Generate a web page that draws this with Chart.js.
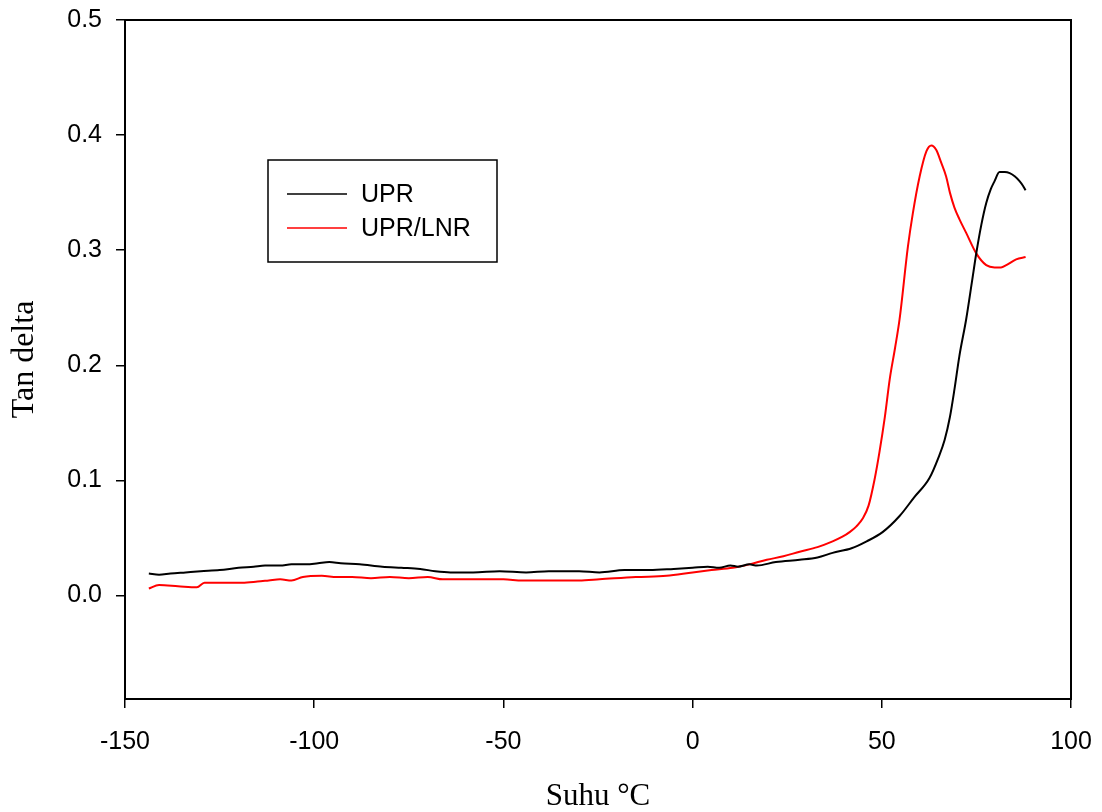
<!DOCTYPE html>
<html>
<head>
<meta charset="utf-8">
<script src="https://cdn.jsdelivr.net/npm/chart.js@4/dist/chart.umd.min.js"></script>
<style>
  body { margin: 0; background: #fff; }
  #wrap { width: 1102px; height: 812px; }
</style>
</head>
<body>
<div id="wrap"><canvas id="tanChart" width="1102" height="812"></canvas></div>
<script>
// temperature (°C) and tan delta
const uprTemp = [-143.7, -141, -138, -134, -130, -125, -120, -116, -113, -109, -106, -102, -99, -96, -93, -88, -82, -77, -72, -68, -64, -58, -51, -44, -38, -30, -24.6, -18, -11.4, -5, 0, 4, 7, 10, 12, 15, 17, 22, 28.3, 33, 37, 42, 46, 50.2, 54.7, 58.5, 62.6, 65, 66.6, 68, 69.2, 70.5, 72.3, 73.8, 75, 76.3, 77.6, 78.8, 79.8, 81.1, 82.5, 83.8, 85.2, 86.4, 87.3, 88];
const uprTan = [0.019, 0.018, 0.019, 0.020, 0.021, 0.022, 0.024, 0.025, 0.026, 0.026, 0.027, 0.027, 0.028, 0.029, 0.028, 0.027, 0.025, 0.024, 0.023, 0.021, 0.020, 0.020, 0.021, 0.020, 0.021, 0.021, 0.020, 0.022, 0.022, 0.023, 0.024, 0.025, 0.024, 0.026, 0.025, 0.027, 0.026, 0.029, 0.031, 0.033, 0.037, 0.041, 0.047, 0.055, 0.069, 0.085, 0.102, 0.120, 0.135, 0.155, 0.179, 0.208, 0.240, 0.272, 0.298, 0.322, 0.341, 0.353, 0.360, 0.368, 0.368, 0.367, 0.364, 0.360, 0.356, 0.352];

const lnrTemp = [-143.7, -141, -136, -131, -129, -125, -119, -115, -112, -109, -106, -103, -98, -94, -90, -85, -80, -75, -70, -66, -63, -57, -50, -45, -37.8, -30, -24.6, -15, -6.9, 0, 5, 10.6, 15, 19.6, 24, 28.3, 33, 37, 39.6, 41.5, 43.3, 45, 46.5, 48.1, 49.4, 50.8, 52.1, 53.5, 54.7, 56.9, 58.2, 60, 61.8, 63.1, 64.4, 65.7, 67, 68, 69.2, 70.5, 72.3, 75, 77.6, 79.8, 81.5, 82.9, 85.5, 88];
const lnrTan = [0.006, 0.009, 0.008, 0.007, 0.011, 0.011, 0.011, 0.012, 0.013, 0.014, 0.013, 0.016, 0.017, 0.016, 0.016, 0.015, 0.016, 0.015, 0.016, 0.014, 0.014, 0.014, 0.014, 0.013, 0.013, 0.013, 0.014, 0.016, 0.017, 0.020, 0.022, 0.024, 0.027, 0.031, 0.034, 0.038, 0.042, 0.047, 0.051, 0.055, 0.060, 0.067, 0.078, 0.101, 0.125, 0.155, 0.188, 0.215, 0.240, 0.303, 0.332, 0.364, 0.386, 0.391, 0.387, 0.376, 0.364, 0.350, 0.337, 0.327, 0.315, 0.297, 0.287, 0.285, 0.285, 0.287, 0.292, 0.294];

const seriesNames = ['UPR', 'UPR/LNR'];
const seriesColors = ['#000000', '#ff0000'];

const xTitle = 'Suhu °C';
const yTitle = 'Tan delta';

const toPoints = (xs, ys) => xs.map((x, i) => ({ x: x, y: ys[i] }));

// box around the plot plus the legend inside it
const framePlugin = {
  id: 'frame',
  afterDraw(chart) {
    const ctx = chart.ctx;
    const a = chart.chartArea;
    ctx.save();
    ctx.strokeStyle = '#000';
    ctx.lineWidth = 2;
    ctx.strokeRect(a.left, a.top, a.right - a.left, a.bottom - a.top);

    // legend
    ctx.lineWidth = 1.5;
    ctx.strokeRect(268, 160, 229, 102);
    ctx.font = '25px "Liberation Sans", Arial, sans-serif';
    ctx.textBaseline = 'middle';
    ctx.textAlign = 'left';
    chart.data.datasets.forEach((ds, i) => {
      const y = 194 + i * 34;
      ctx.strokeStyle = ds.borderColor;
      ctx.lineWidth = 1.5;
      ctx.beginPath();
      ctx.moveTo(287, y);
      ctx.lineTo(347, y);
      ctx.stroke();
      ctx.fillStyle = '#000';
      ctx.fillText(ds.label, 361, y + 1);
    });
    ctx.restore();
  }
};

const ctx = document.getElementById('tanChart').getContext('2d');
const tanChart = new Chart(ctx, {
  type: 'line',
  data: {
    datasets: [
      {
        label: seriesNames[0],
        data: toPoints(uprTemp, uprTan),
        borderColor: seriesColors[0],
        borderWidth: 2,
        pointRadius: 0,
        cubicInterpolationMode: 'monotone',
        fill: false
      },
      {
        label: seriesNames[1],
        data: toPoints(lnrTemp, lnrTan),
        borderColor: seriesColors[1],
        borderWidth: 2,
        pointRadius: 0,
        cubicInterpolationMode: 'monotone',
        fill: false
      }
    ]
  },
  options: {
    responsive: false,
    animation: false,
    layout: { padding: { top: 20, right: 31, left: 0, bottom: 0 } },
    plugins: {
      legend: { display: false },
      tooltip: { enabled: false }
    },
    scales: {
      x: {
        type: 'linear',
        min: -150,
        max: 100,
        afterFit(scale) {
          scale.height = 113;
          scale.paddingLeft = 0;
          scale.paddingRight = 0;
        },
        ticks: {
          stepSize: 50,
          padding: 19,
          color: '#000',
          font: { family: '"Liberation Sans", Arial, sans-serif', size: 25 },
          maxRotation: 0
        },
        grid: { drawOnChartArea: false, drawTicks: true, tickLength: 9, color: '#000', lineWidth: 1.5 },
        border: { display: true, color: '#000', width: 2 },
        title: {
          display: true,
          text: xTitle,
          color: '#000',
          font: { family: '"Liberation Serif", "Times New Roman", serif', size: 31 },
          padding: { top: 0, bottom: -3 }
        }
      },
      y: {
        type: 'linear',
        min: -0.09,
        max: 0.5,
        afterFit(scale) {
          scale.width = 125;
          scale.paddingTop = 0;
          scale.paddingBottom = 0;
        },
        afterBuildTicks(scale) {
          scale.ticks = scale.ticks.filter(t => t.value > -0.05);
        },
        ticks: {
          stepSize: 0.1,
          padding: 14,
          color: '#000',
          font: { family: '"Liberation Sans", Arial, sans-serif', size: 25 },
          callback: v => Number(v).toFixed(1)
        },
        grid: { drawOnChartArea: false, drawTicks: true, tickLength: 9, color: '#000', lineWidth: 1.5 },
        border: { display: true, color: '#000', width: 2 },
        title: {
          display: true,
          text: yTitle,
          color: '#000',
          font: { family: '"Liberation Serif", "Times New Roman", serif', size: 32 },
          padding: { top: 5, bottom: 0 }
        }
      }
    }
  },
  plugins: [framePlugin]
});
</script>
</body>
</html>
